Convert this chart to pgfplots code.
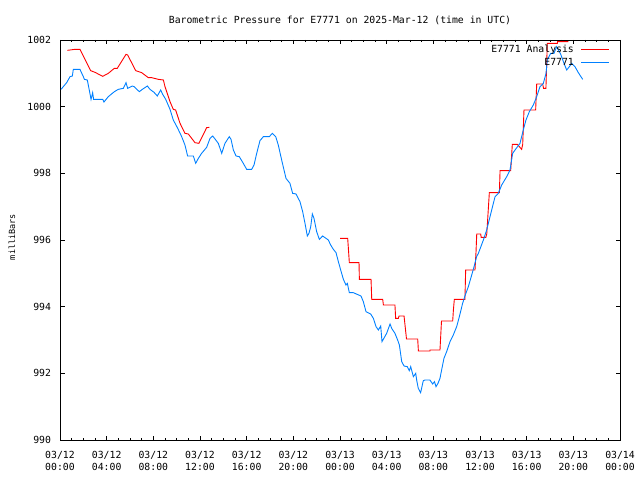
\documentclass[border=0pt]{standalone}
\usepackage{fontspec}
\setmainfont{DejaVu Sans Mono}
\usepackage{pgfplots}
\pgfplotsset{compat=1.18}
\definecolor{rd}{RGB}{255,0,0}
\definecolor{bl}{RGB}{0,128,255}
\newcommand{\gf}{\fontsize{9.8}{12}\selectfont}
\begin{document}
\begin{tikzpicture}[x=1pt,y=1pt]
\path[use as bounding box] (0,0) rectangle (640,480);
\node[font=\gf] at (340,460) {Barometric Pressure for E7771 on 2025-Mar-12 (time in UTC)};
\node[rotate=90,font=\fontsize{8.5}{10}\selectfont] at (12,243) {milliBars};
\begin{axis}[
  at={(60pt,40pt)}, anchor=south west, scale only axis,
  width=560pt, height=400pt,
  xmin=0, xmax=48, ymin=990, ymax=1002,
  xtick={0,4,...,48},
  xticklabels={03/12\\00:00,03/12\\04:00,03/12\\08:00,03/12\\12:00,03/12\\16:00,03/12\\20:00,03/13\\00:00,03/13\\04:00,03/13\\08:00,03/13\\12:00,03/13\\16:00,03/13\\20:00,03/14\\00:00},
  xticklabel style={align=center, font=\gf, yshift=-8pt},
  minor x tick num=3,
  ytick={990,992,994,996,998,1000,1002},
  yticklabels={990,992,994,996,998,1000,1002},
  yticklabel style={font=\gf, xshift=-5.5pt},
  major tick length=4.5pt, minor tick length=2.5pt,
  tick style={black, line width=0.6pt},
  axis line style={black, line width=0.8pt},
  unbounded coords=jump,
  legend style={draw=none, fill=none, at={(1,1)}, anchor=north east, xshift=-10pt, yshift=-3pt, font=\gf, row sep=0pt, column sep=5pt, inner sep=0pt, cells={anchor=east}},
  legend plot pos=right,
  legend image code/.code={\draw[#1] (0pt,0pt) -- (28pt,0pt);},
]
\addplot[rd, line width=0.9pt] coordinates {
(0.63,1001.69) (1.29,1001.72) (1.71,1001.72) (2.63,1001.08) (3.0,1001.03) (3.66,1000.91)
(4.14,1001.0) (4.66,1001.15) (4.91,1001.15) (5.66,1001.57) (5.8,1001.55) (6.49,1001.08)
(7.0,1001.02) (7.57,1000.87) (7.85,1000.87) (8.43,1000.82) (8.86,1000.80) (9.0,1000.6)
(9.43,1000.15) (9.71,999.92) (9.91,999.90) (10.29,999.5) (10.71,999.2) (11.0,999.18)
(11.57,998.92) (11.91,998.90) (12.57,999.37) (12.8,999.38)
(13,nan)
(24.0,996.05) (24.66,996.05) (24.8,995.32) (25.63,995.32) (25.66,994.82) (26.66,994.82)
(26.72,994.22) (27.66,994.22) (27.72,994.05) (28.71,994.05) (28.77,993.65) (29.0,993.65)
(29.06,993.72) (29.49,993.72) (29.7,993.03) (30.66,993.03) (30.72,992.67) (31.71,992.67)
(31.72,992.7) (32.57,992.7) (32.7,993.57) (33.66,993.57) (33.72,993.9) (33.8,994.22)
(34.71,994.22) (34.77,995.1) (35.57,995.1) (35.66,995.65) (35.72,996.18) (36.06,996.18)
(36.1,996.08) (36.5,996.08) (36.58,996.18) (36.8,997.42) (37.66,997.42) (37.72,998.08)
(38.63,998.08) (38.77,998.87) (39.2,998.87) (39.57,998.72) (39.66,998.87) (39.77,999.9)
(40.29,999.9) (40.77,999.9) (40.86,1000.68) (41.37,1000.68) (41.45,1000.55) (41.65,1000.55)
(41.77,1001.9) (42.63,1001.9) (42.65,1001.95) (43.57,1001.95)
};
\addlegendentry{E7771 Analysis}
\addplot[bl, line width=0.9pt] coordinates {
(0.09,1000.52) (0.57,1000.72) (0.86,1000.9) (1.06,1000.92) (1.14,1001.12) (1.71,1001.12)
(2.0,1000.9) (2.09,1000.82) (2.34,1000.8) (2.51,1000.5) (2.66,1000.22) (2.8,1000.42)
(2.88,1000.22) (3.66,1000.22) (3.77,1000.14) (4.14,1000.3) (4.66,1000.45) (5.0,1000.52)
(5.43,1000.55) (5.66,1000.72) (5.8,1000.55) (6.2,1000.62) (6.35,1000.6) (6.8,1000.45)
(7.06,1000.52) (7.49,1000.62) (7.71,1000.52) (8.06,1000.43) (8.34,1000.32) (8.63,1000.5)
(8.8,1000.37) (9.06,1000.22) (9.43,999.92) (9.71,999.6) (10.09,999.35) (10.43,999.1)
(10.71,998.85) (10.94,998.52) (11.43,998.52) (11.63,998.3) (11.86,998.45) (12.14,998.6)
(12.57,998.78) (12.86,999.05) (13.09,999.12) (13.57,998.9) (13.86,998.6) (14.14,998.9)
(14.51,999.1) (14.66,999.02) (14.86,998.7) (15.09,998.52) (15.37,998.5) (15.71,998.3)
(16.0,998.12) (16.43,998.12) (16.63,998.25) (16.86,998.6) (17.14,998.98) (17.43,999.1)
(17.94,999.1) (18.2,999.2) (18.49,999.1) (18.71,998.85) (19.0,998.4) (19.37,997.85)
(19.71,997.7) (19.94,997.4) (20.23,997.38) (20.57,997.15) (20.8,996.85) (21.0,996.5)
(21.2,996.12) (21.34,996.2) (21.49,996.4) (21.63,996.78) (21.77,996.65) (22.0,996.25)
(22.23,996.02) (22.51,996.12) (22.8,996.05) (23.0,996.0) (23.2,995.85) (23.43,995.72)
(23.66,995.62) (23.86,995.35) (24.06,995.1) (24.29,994.82) (24.51,994.65) (24.63,994.7)
(24.8,994.42) (25.14,994.42) (25.8,994.32) (26.0,994.15) (26.23,993.85) (26.63,993.78)
(26.86,993.65) (27.09,993.4) (27.29,993.3) (27.49,993.42) (27.6,992.95) (27.71,993.02)
(28.0,993.2) (28.29,993.48) (28.43,993.35) (28.71,993.2) (28.94,993.0) (29.09,992.85)
(29.29,992.35) (29.49,992.22) (29.77,992.2) (29.94,992.08) (30.06,992.2) (30.29,991.9)
(30.49,992.0) (30.57,991.8) (30.71,991.55) (30.91,991.42) (31.14,991.78) (31.29,991.8)
(31.71,991.8) (31.94,991.68) (32.1,991.75) (32.23,991.6) (32.4,991.7) (32.57,991.85)
(32.71,992.1) (32.91,992.45) (33.14,992.65) (33.43,992.95) (33.71,993.15) (34.0,993.4)
(34.23,993.7) (34.51,994.1) (34.71,994.32) (35.0,994.6) (35.29,994.95) (35.49,995.2)
(35.71,995.5) (35.86,995.6) (36.29,996.0) (36.57,996.3) (36.86,996.7) (37.29,997.3)
(37.57,997.4) (37.86,997.65) (38.29,997.9) (38.57,998.1) (38.8,998.6) (39.0,998.7)
(39.43,998.9) (39.71,999.3) (39.94,999.6) (40.23,999.85) (40.57,1000.05) (40.86,1000.3)
(41.14,1000.6) (41.43,1000.7) (41.66,1001.0) (41.77,1001.4) (42.06,1001.6) (42.34,1001.6)
(42.57,1001.8) (42.91,1001.58) (43.2,1001.3) (43.43,1001.1) (43.66,1001.2) (43.86,1001.3)
(44.14,1001.2) (44.43,1001.02) (44.8,1000.82)
};
\addlegendentry{E7771}
\end{axis}
\end{tikzpicture}
\end{document}
